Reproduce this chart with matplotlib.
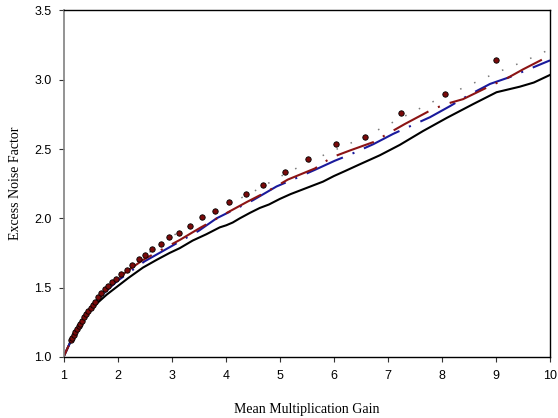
import matplotlib
matplotlib.use('Agg')
import matplotlib.pyplot as plt
import numpy as np

# Gain axis samples and excess noise factor curves
gain_black = [1.0, 1.2, 1.4, 1.6, 1.8, 2.0, 2.2, 2.47, 2.72, 2.96, 3.15, 3.39, 3.64,
              3.89, 4.01, 4.13, 4.26, 4.45, 4.63, 4.8, 5.0, 5.2, 5.4, 5.6, 5.8, 6.0,
              6.2, 6.48, 6.85, 7.22, 7.65, 8.09, 8.58, 9.01, 9.44, 9.7, 10.0]
F_black = [1.0, 1.17, 1.29, 1.38, 1.45, 1.51, 1.57, 1.645, 1.70, 1.75, 1.785, 1.84, 1.885,
           1.935, 1.95, 1.97, 2.0, 2.04, 2.075, 2.10, 2.14, 2.175, 2.205, 2.235, 2.265, 2.305,
           2.34, 2.39, 2.455, 2.53, 2.63, 2.725, 2.825, 2.91, 2.95, 2.98, 3.035]

gain_red = [1.0, 1.2, 1.4, 1.6, 1.8, 2.0, 2.16, 2.47, 2.78, 3.15, 3.52, 4.07, 4.4, 4.75,
            5.15, 5.65, 5.96, 6.3, 6.73, 7.04, 7.31, 7.84, 8.12, 8.39, 8.89, 9.2, 9.5, 10.0]
F_red = [1.0, 1.17, 1.30, 1.40, 1.48, 1.56, 1.615, 1.70, 1.767, 1.844, 1.93, 2.05, 2.12, 2.19,
         2.28, 2.36, 2.44, 2.49, 2.55, 2.62, 2.68, 2.79, 2.83, 2.86, 2.955, 3.01, 3.075, 3.175]

gain_blue = [1.0, 1.2, 1.4, 1.6, 1.8, 2.0, 2.5, 3.0, 3.5, 3.83, 4.5, 4.94, 5.3, 5.65, 6.02,
             6.3, 6.73, 7.1, 7.78, 8.15, 8.5, 8.89, 9.26, 10.0]
F_blue = [1.0, 1.17, 1.30, 1.40, 1.48, 1.55, 1.69, 1.80, 1.91, 2.0, 2.13, 2.23, 2.29, 2.35, 2.416,
          2.46, 2.535, 2.61, 2.73, 2.81, 2.89, 2.97, 3.02, 3.14]

gain_dot = [1.0, 1.2, 1.5, 2.0, 2.5, 3.0, 3.5, 4.0, 4.5, 5.0, 5.5, 6.0, 6.5, 7.0, 7.5, 8.0,
            8.5, 9.0, 9.5, 10.0]
F_dot = [1.0, 1.18, 1.35, 1.57, 1.73, 1.87, 1.98, 2.09, 2.19, 2.30, 2.40, 2.49, 2.575, 2.675,
         2.775, 2.875, 2.96, 3.05, 3.13, 3.22]

gain_sim = [1.13, 1.16, 1.19, 1.22, 1.25, 1.28, 1.31, 1.34, 1.38, 1.42, 1.46, 1.50, 1.54, 1.59,
            1.64, 1.70, 1.76, 1.83, 1.90, 1.98, 2.07, 2.17, 2.27, 2.39, 2.51, 2.64, 2.80, 2.96,
            3.14, 3.34, 3.57, 3.80, 4.06, 4.37, 4.69, 5.09, 5.52, 6.04, 6.58, 7.25, 8.06, 9.00]
F_sim = [1.12, 1.14, 1.16, 1.18, 1.20, 1.22, 1.24, 1.26, 1.285, 1.31, 1.33, 1.35, 1.375, 1.40,
         1.43, 1.46, 1.49, 1.51, 1.54, 1.565, 1.595, 1.625, 1.66, 1.707, 1.738, 1.78, 1.815, 1.864,
         1.897, 1.943, 2.01, 2.05, 2.12, 2.176, 2.24, 2.337, 2.43, 2.54, 2.587, 2.76, 2.895, 3.14]

fig = plt.figure(figsize=(5.58, 4.18), dpi=100)
ax = fig.add_axes([0.1138, 0.146, 0.872, 0.829])

ax.plot(gain_black, F_black, color='black', lw=1.5)
ax.plot(gain_blue, F_blue, color='#1a1a9c', lw=1.5, linestyle=(0, (19, 5, 1, 5)))
ax.plot(gain_red, F_red, color='#8c1414', lw=1.5, linestyle=(13, (19, 5, 1, 5)))
ax.plot(gain_dot, F_dot, color='#7a7a7a', lw=1.1, linestyle=(0, (1, 9)))
ax.plot(gain_sim, F_sim, 'o', color='#7a0a0a', markeredgecolor='black', markeredgewidth=0.6,
        markersize=3.9, zorder=5)

ax.set_xlim(1, 10)
ax.set_ylim(1.0, 3.5)
ax.set_xticks(range(1, 11))
ax.set_yticks([1.0, 1.5, 2.0, 2.5, 3.0, 3.5])
ax.set_yticklabels(['1.0', '1.5', '2.0', '2.5', '3.0', '3.5'])

for lab in ax.get_xticklabels() + ax.get_yticklabels():
    lab.set_family('Liberation Sans')
    lab.set_fontsize(9)
ax.tick_params(axis='both', direction='out', length=3.5, width=0.8, color='#333333')
ax.tick_params(axis='x', pad=6)
ax.tick_params(axis='y', pad=5)

ax.spines['left'].set_color('#808080')
ax.spines['left'].set_linewidth(1.2)
for s in ['top', 'bottom', 'right']:
    ax.spines[s].set_color('black')
    ax.spines[s].set_linewidth(1.0)

ax.set_xlabel('Mean Multiplication Gain', family='Liberation Serif', fontsize=10, labelpad=15)
ax.set_ylabel('Excess Noise Factor', family='Liberation Serif', fontsize=10, labelpad=9)

fig.savefig('out.png', dpi=100)
